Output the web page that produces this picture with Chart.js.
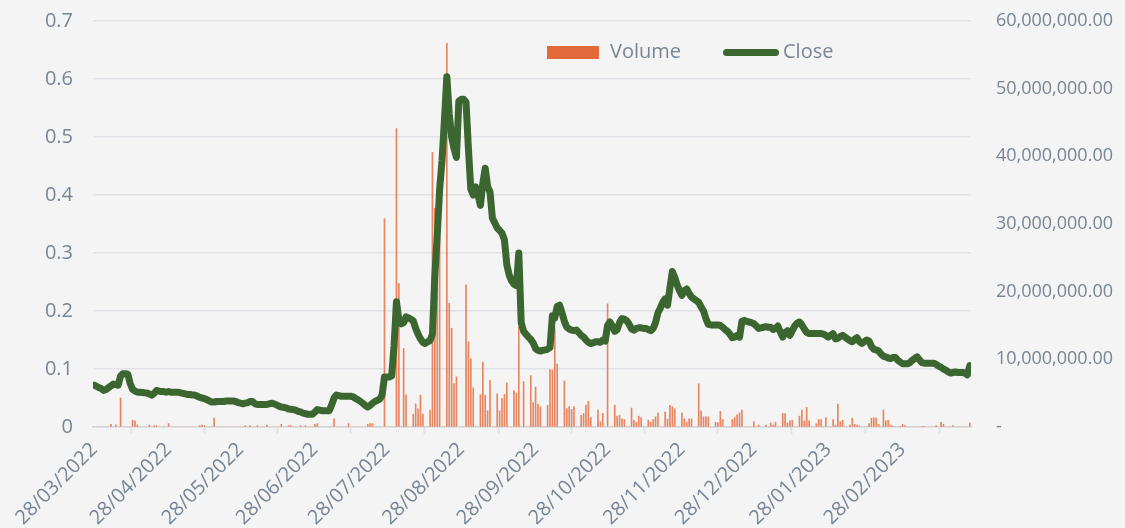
<!DOCTYPE html>
<html>
<head>
<meta charset="utf-8">
<script src="https://cdn.jsdelivr.net/npm/chart.js@4.4.1/dist/chart.umd.min.js"></script>
<style>
  html, body { margin: 0; padding: 0; background: #f4f4f4; }
  #wrap { position: relative; width: 1125px; height: 528px; }
  .leg { position: absolute; font: 20px "Open Sans", sans-serif; color: #788595; line-height: 26px; height: 26px; top: 38px; }
</style>
</head>
<body>
<div id="wrap">
  <canvas id="grafico" width="1125" height="528"></canvas>
  <div style="position:absolute;left:547px;top:46px;width:52px;height:13px;background:#e2693a;"></div>
  <div class="leg" style="left:610px;">Volume</div>
  <div style="position:absolute;left:723px;top:49px;width:56px;height:7px;border-radius:4px;background:#3c6630;"></div>
  <div class="leg" style="left:783px;">Close</div>
</div>
<script>
// ------------ Dados ------------ //

var dataInicial = Date.UTC(2022, 2, 28); // 28/03/2022
var totalDias = 366;

// preço de fechamento diário
var close = [
  0.072,0.070,0.068,0.066,0.063,0.065,0.068,0.071,0.074,0.073,
  0.072,0.088,0.092,0.092,0.091,0.075,0.065,0.062,0.060,0.060,
  0.0595,0.059,0.0587,0.057,0.055,0.058,0.063,0.062,0.061,0.061,
  0.060,0.061,0.060,0.060,0.060,0.060,0.059,0.058,0.057,0.056,
  0.056,0.055,0.055,0.053,0.051,0.050,0.049,0.047,0.045,0.043,
  0.043,0.044,0.044,0.044,0.044,0.045,0.045,0.045,0.045,0.044,
  0.042,0.041,0.040,0.041,0.042,0.044,0.044,0.040,0.039,0.039,
  0.039,0.039,0.039,0.040,0.041,0.040,0.038,0.036,0.0345,0.034,
  0.033,0.031,0.0305,0.030,0.029,0.027,0.026,0.024,0.023,0.022,
  0.022,0.022,0.026,0.030,0.029,0.028,0.028,0.028,0.028,0.038,
  0.050,0.055,0.054,0.053,0.053,0.053,0.053,0.053,0.052,0.049,
  0.047,0.044,0.041,0.037,0.0345,0.037,0.041,0.044,0.046,0.048,
  0.055,0.086,0.086,0.086,0.088,0.140,0.216,0.185,0.178,0.180,
  0.190,0.188,0.186,0.183,0.170,0.160,0.152,0.146,0.144,0.147,
  0.149,0.160,0.262,0.330,0.410,0.460,0.530,0.604,0.540,0.500,
  0.480,0.465,0.562,0.565,0.565,0.560,0.480,0.410,0.400,0.414,
  0.400,0.382,0.420,0.446,0.415,0.405,0.360,0.352,0.343,0.339,
  0.334,0.323,0.280,0.262,0.252,0.246,0.244,0.300,0.180,0.165,
  0.160,0.155,0.151,0.145,0.135,0.132,0.131,0.132,0.133,0.134,
  0.137,0.192,0.188,0.208,0.210,0.197,0.182,0.172,0.169,0.167,
  0.166,0.167,0.163,0.158,0.155,0.150,0.146,0.144,0.145,0.147,
  0.147,0.146,0.150,0.148,0.175,0.181,0.174,0.165,0.168,0.180,
  0.187,0.186,0.183,0.177,0.169,0.167,0.170,0.171,0.171,0.170,
  0.170,0.168,0.166,0.170,0.180,0.197,0.205,0.215,0.221,0.210,
  0.240,0.268,0.258,0.245,0.235,0.227,0.235,0.238,0.230,0.224,
  0.221,0.218,0.215,0.207,0.200,0.187,0.177,0.176,0.176,0.176,
  0.176,0.175,0.172,0.168,0.165,0.160,0.154,0.155,0.158,0.155,
  0.182,0.184,0.182,0.181,0.180,0.178,0.174,0.170,0.171,0.172,
  0.173,0.172,0.172,0.168,0.170,0.174,0.164,0.155,0.163,0.166,
  0.158,0.166,0.174,0.179,0.181,0.176,0.169,0.163,0.161,0.161,
  0.161,0.161,0.161,0.161,0.160,0.158,0.155,0.158,0.161,0.152,
  0.153,0.156,0.158,0.155,0.152,0.149,0.147,0.151,0.154,0.147,
  0.144,0.147,0.150,0.148,0.139,0.134,0.133,0.131,0.126,0.122,
  0.121,0.119,0.118,0.120,0.120,0.115,0.112,0.109,0.109,0.109,
  0.111,0.115,0.118,0.121,0.116,0.111,0.110,0.110,0.110,0.110,
  0.110,0.108,0.105,0.103,0.100,0.098,0.095,0.093,0.094,0.095,
  0.094,0.094,0.094,0.093,0.090,0.106
];

// volume diário em milhões
var volumeMi = [
  0,0,0,0,0,0,0,0.4,0,0.3,
  0,4.3,0,0,0,0,1.0,0.9,0.3,0,
  0,0,0,0.3,0,0.2,0.2,0,0,0,
  0,0.5,0,0,0,0,0,0,0,0,
  0,0,0,0,0.2,0.3,0.2,0,0,0,
  1.3,0,0,0,0,0,0,0,0,0,
  0,0,0,0.2,0,0.2,0,0,0.2,0,
  0,0,0.3,0,0,0,0,0,0.4,0,
  0,0.2,0.2,0,0,0,0.2,0,0.2,0,
  0,0,0.4,0.5,0,0,0,0,0,0,
  1.2,0,0,0,0,0,0.5,0,0,0,
  0,0,0,0,0.4,0.5,0.5,0,0,0,
  0,30.8,0,0,0,0,44.1,21.2,0,11.6,
  4.7,0,0,1.9,3.4,2.7,4.7,1.9,0,0,
  2.5,40.6,32.3,30.0,28.0,0,0,56.7,18.3,14.6,
  6.4,7.4,0,0,0,21.0,12.6,10.1,5.8,0,
  0,4.8,9.6,4.7,2.4,6.9,0,0,4.9,2.4,
  4.2,4.8,6.5,0,0,5.4,5.0,14.8,0,6.7,
  0,0,7.6,3.6,5.9,3.4,3.0,0,0,3.2,
  8.5,8.4,14.5,9.3,0,0,6.8,2.7,3.0,2.6,
  3.0,0,0,1.7,2.0,3.2,3.8,1.4,0,0,
  2.5,0.8,2.0,0,18.2,0,0,3.2,1.6,1.7,
  1.2,1.1,0,0,2.8,1.0,0.7,1.6,1.4,0,
  0,1.0,0.7,1.1,1.5,2.1,0,0,2.2,1.2,
  3.2,3.0,2.7,0,0,2.1,1.2,0.7,1.2,1.2,
  0,0,6.4,2.4,1.5,1.5,1.5,0,0,0.7,
  0.6,2.3,1.1,0,0,0,1.1,1.4,1.8,2.1,
  2.5,0,0,0,0,0.8,0,0.3,0,0,
  0.3,0,0.6,0.3,0.7,0,0,2.0,2.0,0.6,
  0.9,1.0,0,0,1.6,2.5,0.9,2.9,0.9,0,
  0,0.5,1.1,1.1,0,1.4,0,0,1.1,0.3,
  3.4,0.8,1.0,0,0,0.3,1.3,0.4,0.3,0.15,
  0,0,0,0.5,1.3,1.4,1.3,0.4,0,2.5,
  0.9,1.0,0.3,0.1,0,0,0.1,0.4,0.2,0,
  0,0,0,0,0,0.1,0.1,0,0,0,
  0,0.2,0,0.7,0.4,0,0,0,0.2,0,
  0,0,0,0,0,0.6
];

// ------------ Montagem das datas ------------ //

function doisDigitos(n) {
    return n < 10 ? '0' + n : '' + n;
}

var datas = [];
for (var i = 0; i < totalDias; i++) {
    var d = new Date(dataInicial + i * 86400000);
    datas.push(doisDigitos(d.getUTCDate()) + '/' + doisDigitos(d.getUTCMonth() + 1) + '/' + d.getUTCFullYear());
}

var corTexto = '#788595';
var corGrade = '#dfe2e6';
var fonte = 'Open Sans';

// ------------ Gráfico ------------ //

var ctx = document.getElementById('grafico').getContext('2d');
var grafico = new Chart(ctx, {
    type: 'bar',
    data: {
        labels: datas,
        datasets: [{
            type: 'line',
            label: 'Close',
            data: close,
            yAxisID: 'y',
            borderColor: '#3c6630',
            borderWidth: 7,
            pointRadius: 0,
            tension: 0,
            borderJoinStyle: 'round',
            borderCapStyle: 'round',
            clip: 0,
            order: 0
        }, {
            label: 'Volume',
            data: volumeMi.map(function (v) { return v * 1000000; }),
            yAxisID: 'y1',
            backgroundColor: 'rgba(226,105,58,0.8)',
            barThickness: 1,
            order: 1
        }]
    },
    options: {
        responsive: false,
        animation: false,
        layout: { padding: { top: 21, left: 0, right: 0, bottom: 0 } },
        plugins: {
            legend: { display: false },
            tooltip: { enabled: false }
        },
        scales: {
            x: {
                offset: true,
                grid: {
                    offset: true,
                    drawOnChartArea: false,
                    drawTicks: true,
                    tickLength: 7,
                    tickWidth: 2,
                    color: corGrade
                },
                border: { display: true, color: corGrade, width: 2 },
                ticks: {
                    autoSkip: false,
                    maxRotation: 45,
                    minRotation: 45,
                    padding: 4,
                    color: corTexto,
                    font: { family: fonte, size: 20 },
                    callback: function (valor, indice) {
                        var txt = datas[indice];
                        // a última data (28/03/2023) não aparece no eixo
                        if (indice === totalDias - 1) return null;
                        return txt.substring(0, 2) === '28' ? txt : null;
                    }
                },
                afterFit: function (escala) { escala.height = 101; }
            },
            y: {
                position: 'left',
                min: 0,
                max: 0.7,
                ticks: {
                    stepSize: 0.1,
                    padding: 0,
                    color: corTexto,
                    font: { family: fonte, size: 20 }
                },
                // marca invisível só para afastar os rótulos
                grid: { color: corGrade, lineWidth: 1.6, drawTicks: true, tickLength: 20, tickColor: 'rgba(0,0,0,0)' },
                border: { display: false },
                afterFit: function (escala) { escala.width = 93; }
            },
            y1: {
                position: 'right',
                min: 0,
                max: 60000000,
                ticks: {
                    stepSize: 10000000,
                    padding: 0,
                    color: corTexto,
                    font: { family: fonte, size: 18 },
                    callback: function (v) {
                        if (v === 0) return '-';
                        return v.toLocaleString('en-US', { minimumFractionDigits: 2, maximumFractionDigits: 2 });
                    }
                },
                grid: { display: true, drawOnChartArea: false, drawTicks: true, tickLength: 25, tickColor: 'rgba(0,0,0,0)' },
                border: { display: false },
                afterFit: function (escala) { escala.width = 154; }
            }
        }
    }
});
</script>
</body>
</html>
